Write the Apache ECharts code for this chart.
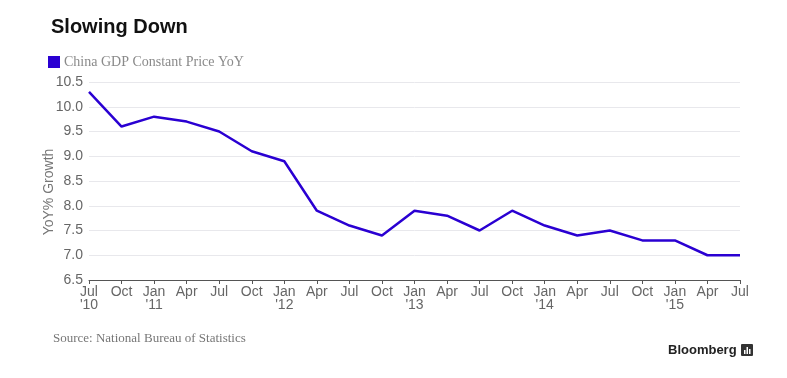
<!DOCTYPE html>
<html>
<head>
<meta charset="utf-8">
<script src="https://cdn.jsdelivr.net/npm/echarts@6/dist/echarts.min.js"></script>
<style>
html,body{margin:0;padding:0;background:#fff;}
#c{width:787px;height:378px;}
</style>
</head>
<body>
<div id="c"></div>
<script>
const categories = ["Jul\n'10","Oct","Jan\n'11","Apr","Jul","Oct","Jan\n'12","Apr","Jul","Oct","Jan\n'13","Apr","Jul","Oct","Jan\n'14","Apr","Jul","Oct","Jan\n'15","Apr","Jul"];
const gdpYoY = [10.3,9.6,9.8,9.7,9.5,9.1,8.9,7.9,7.6,7.4,7.9,7.8,7.5,7.9,7.6,7.4,7.5,7.3,7.3,7.0,7.0];
const seriesName = "China GDP Constant Price YoY";
const lineColor = "#2a00d2";

const chart = echarts.init(document.getElementById('c'), null, {renderer:'canvas'});
chart.setOption({
  animation:false,
  backgroundColor:'#fff',
  title:{
    text:'Slowing Down',
    left:46, top:12,
    textStyle:{fontFamily:'Liberation Sans, Arial, sans-serif', fontWeight:'bold', fontSize:20, color:'#111'}
  },
  legend:{
    left:43, top:50,
    itemWidth:12, itemHeight:12, itemGap:4,
    icon:'rect',
    data:[{name:seriesName, icon:'rect'}],
    textStyle:{fontFamily:'Liberation Serif, DejaVu Serif, serif', fontSize:14, color:'#8a8a8a', padding:[0,0,0,-1]}
  },
  grid:{left:89, right:47, top:82, bottom:98},
  xAxis:{
    type:'category',
    data:categories,
    boundaryGap:false,
    axisLine:{lineStyle:{color:'#555', width:1}},
    axisTick:{show:true, alignWithLabel:true, length:4, lineStyle:{color:'#555'}},
    axisLabel:{fontFamily:'Liberation Sans, Arial, sans-serif', fontSize:14, color:'#666', margin:6, lineHeight:13, interval:0},
    splitLine:{show:false}
  },
  yAxis:{
    type:'value',
    min:6.5, max:10.5, interval:0.5,
    axisLine:{show:false},
    axisTick:{show:false},
    axisLabel:{fontFamily:'Liberation Sans, Arial, sans-serif', fontSize:14, color:'#666', margin:6, formatter:v=>v.toFixed(1)},
    splitLine:{lineStyle:{color:'#e8e8ec', width:1}}
  },
  series:[{
    name:seriesName,
    type:'line',
    data:gdpYoY,
    symbol:'none',
    lineStyle:{color:lineColor, width:2.5},
    itemStyle:{color:lineColor}
  }],
  graphic:[
    {type:'text', x:49, y:192, rotation:Math.PI/2, style:{text:'YoY% Growth', font:'14px "Liberation Sans", Arial, sans-serif', fill:'#777', align:'center', verticalAlign:'middle'}},
    {type:'text', left:53, top:332, style:{text:'Source: National Bureau of Statistics', font:'13px "Liberation Serif", "DejaVu Serif", serif', fill:'#777'}},
    {type:'text', left:668, top:344, style:{text:'Bloomberg', font:'bold 13px "Liberation Sans", Arial, sans-serif', fill:'#222'}},
    {type:'group', left:741, top:344, children:[
      {type:'rect', shape:{x:0,y:0,width:12,height:12, r:1}, style:{fill:'#333'}},
      {type:'rect', shape:{x:3,y:6,width:1.5,height:4}, style:{fill:'#fff'}},
      {type:'rect', shape:{x:5.5,y:3,width:1.5,height:7}, style:{fill:'#fff'}},
      {type:'rect', shape:{x:8,y:5,width:1.5,height:5}, style:{fill:'#fff'}}
    ]}
  ]
});
</script>
</body>
</html>
